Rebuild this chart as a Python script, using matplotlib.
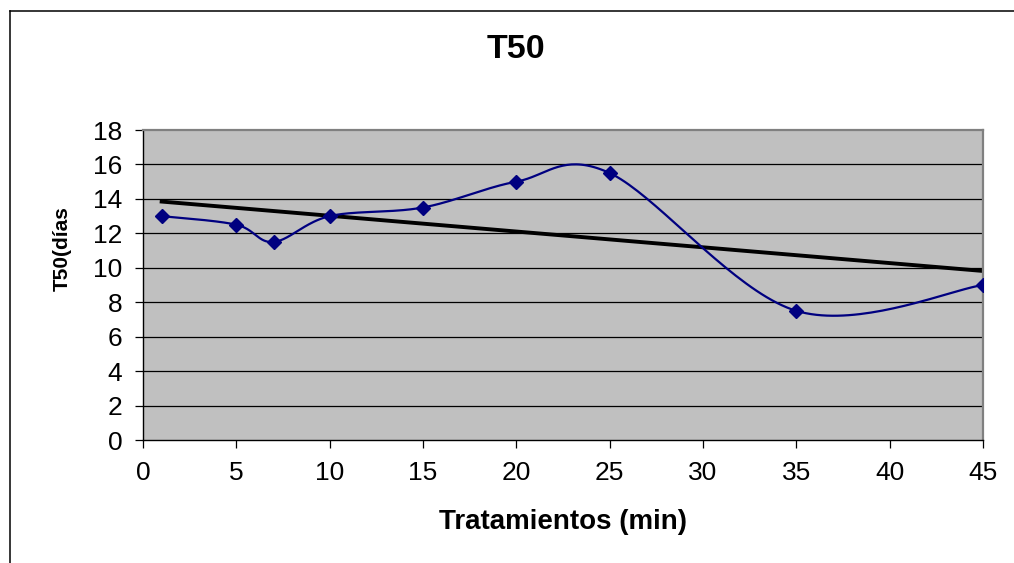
import numpy as np
import matplotlib
matplotlib.use("Agg")
import matplotlib.pyplot as plt
from matplotlib.lines import Line2D

# Germination data: T50 (days) by treatment duration (min)
tratamientos = [1, 5, 7, 10, 15, 20, 25, 35, 45]
t50_dias = [13, 12.5, 11.5, 13, 13.5, 15, 15.5, 7.5, 9]
y_ticks = [0, 2, 4, 6, 8, 10, 12, 14, 16, 18]
x_ticks = [0, 5, 10, 15, 20, 25, 30, 35, 40, 45]

FONT = "Liberation Sans"
NAVY = "#000080"
PLOT_BG = "#C0C0C0"


def smooth_curve(x, y, steps=40):
    """Piecewise cubic Bezier through the points (spreadsheet-style smoothing)."""
    pts = np.column_stack([x, y]).astype(float)
    n = len(pts)
    out = []
    for i in range(n - 1):
        p0 = pts[i]
        p3 = pts[i + 1]
        prev_p = pts[i - 1] if i > 0 else pts[i]
        next_p = pts[i + 2] if i + 2 < n else pts[i + 1]
        c1 = p0 + (p3 - prev_p) / 6.0
        c2 = p3 - (next_p - p0) / 6.0
        t = np.linspace(0, 1, steps)[:, None]
        seg = ((1 - t) ** 3) * p0 + 3 * ((1 - t) ** 2) * t * c1 \
            + 3 * (1 - t) * (t ** 2) * c2 + (t ** 3) * p3
        out.append(seg if i == 0 else seg[1:])
    curve = np.vstack(out)
    return curve[:, 0], curve[:, 1]


fig = plt.figure(figsize=(10.14, 5.63), dpi=100)
ax = fig.add_axes([143 / 1014, 1 - 440 / 563, 840 / 1014, 310 / 563])
ax.set_facecolor(PLOT_BG)

# Horizontal gridlines
for yv in y_ticks[1:-1]:
    ax.axhline(yv, color="black", lw=0.9, zorder=1)

# Smoothed data line with diamond markers
cx, cy = smooth_curve(tratamientos, t50_dias)
ax.plot(cx, cy, color=NAVY, lw=1.6, zorder=3, solid_capstyle="round")
ax.plot(tratamientos, t50_dias, linestyle="none", marker="D", markersize=7.5,
        color=NAVY, zorder=4)

# Linear trendline
slope, intercept = np.polyfit(tratamientos, t50_dias, 1)
tx = np.array([tratamientos[0], tratamientos[-1]])
ax.plot(tx, slope * tx + intercept, color="black", lw=2.8, zorder=2)

ax.set_xlim(0, 45)
ax.set_ylim(0, 18)
ax.set_xticks(x_ticks)
ax.set_yticks(y_ticks)
ax.tick_params(axis="both", direction="out", length=5.8, width=0.9,
               color="black", labelsize=19, pad=9)
for lab in ax.get_xticklabels() + ax.get_yticklabels():
    lab.set_fontfamily(FONT)

for side in ("left", "bottom"):
    ax.spines[side].set_color("black")
    ax.spines[side].set_linewidth(1.0)
for side in ("top", "right"):
    ax.spines[side].set_color("#808080")
    ax.spines[side].set_linewidth(1.6)

fig.text(516 / 1014, 1 - 50 / 563, "T50", ha="center", va="center",
         fontsize=24.5, fontweight="bold", fontfamily=FONT)
fig.text(563 / 1014, 1 - 522 / 563, "Tratamientos (min)", ha="center",
         va="center", fontsize=20, fontweight="bold", fontfamily=FONT)
fig.text(62 / 1014, 1 - 249 / 563, "T50(días", ha="center", va="center",
         rotation=90, fontsize=15, fontweight="bold", fontfamily=FONT)

# Chart area frame (left and top edges)
fig.add_artist(Line2D([10 / 1014, 10 / 1014], [0, 1 - 11 / 563],
                      transform=fig.transFigure, color="black", lw=1.1))
fig.add_artist(Line2D([10 / 1014, 1], [1 - 11 / 563, 1 - 11 / 563],
                      transform=fig.transFigure, color="black", lw=1.1))

fig.savefig("out.png", dpi=100, facecolor="white")
